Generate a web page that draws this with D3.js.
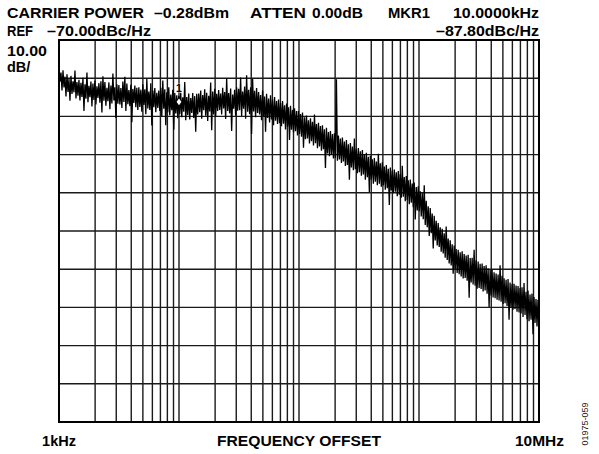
<!DOCTYPE html>
<html>
<head>
<meta charset="utf-8">
<script src="https://cdn.jsdelivr.net/npm/d3@7"></script>
<style>
  html, body { margin: 0; padding: 0; background: #fff; }
  svg { display: block; font-family: "Liberation Sans", Arial, Helvetica, sans-serif; }
</style>
</head>
<body>
<svg id="chart" width="599" height="454"></svg>
<script>
// ---- header / annotation texts ----
const headerLine1 = [
  { text: "CARRIER POWER", x: 7, w: 137 },
  { text: "\u20130.28dBm", x: 154, w: 75 },
  { text: "ATTEN", x: 250, w: 56 },
  { text: "0.00dB", x: 312, w: 51 },
  { text: "MKR1", x: 388, w: 42 },
  { text: "10.0000kHz", x: 453, w: 86 }
];
const headerLine2 = [
  { text: "REF", x: 7, w: 26 },
  { text: "\u201370.00dBc/Hz", x: 47, w: 104 },
  { text: "\u201387.80dBc/Hz", x: 436, w: 103 }
];
const scaleLabels = ["10.00", "dB/"];
const xTickLabels = ["1kHz", "10MHz"];
const xTitle = "FREQUENCY OFFSET";
const figureId = "01975-059";

// ---- axis definition ----
const sweepStartHz = 1e3;
const sweepStopHz = 1e7;
const refLevel = -70;      // dBc/Hz at top
const dbPerDiv = 10;
const yDivisions = 10;

// ---- marker ----
const markerFreq = 1e4;
const markerLevel = -86.2;
const markerLabel = "1";

// ---- measured trace: per-bin peak (max) and pit (min) in dBc/Hz, 241 bins 1kHz..10MHz ----
const traceMax = [
  -76.8, -78.5, -77.9, -79.6, -79.0, -80.2, -79.4, -80.8, -78.0, -81.0,
  -80.4, -81.2, -79.9, -81.6, -78.5, -82.0, -80.9, -81.4, -80.6, -82.1,
  -81.3, -80.8, -79.5, -81.0, -82.5, -81.1, -81.9, -78.8, -82.4, -81.6,
  -81.8, -82.6, -80.9, -79.6, -81.4, -83.1, -81.7, -82.8, -81.9, -82.5,
  -82.4, -83.0, -81.6, -82.9, -80.2, -83.5, -81.3, -83.2, -82.6, -83.8,
  -83.2, -82.5, -80.6, -82.9, -83.7, -82.4, -84.3, -83.0, -83.9, -84.5,
  -84.6, -83.8, -85.0, -81.0, -84.9, -84.0, -85.2, -83.9, -84.7, -84.1,
  -84.0, -83.2, -84.4, -82.9, -83.8, -84.6, -81.1, -83.5, -82.8, -84.1,
  -83.1, -84.0, -82.5, -83.6, -80.0, -83.9, -82.7, -84.3, -83.0, -82.4,
  -82.8, -79.8, -83.5, -82.2, -79.2, -83.0, -82.4, -80.1, -83.3, -82.6,
  -83.6, -84.4, -83.2, -84.8, -84.1, -85.3, -84.5, -85.6, -84.9, -86.0,
  -85.6, -86.5, -86.0, -87.1, -86.6, -87.6, -87.2, -88.3, -87.9, -88.6,
  -88.6, -89.4, -89.0, -90.2, -89.8, -91.0, -90.5, -91.4, -89.5, -92.0,
  -91.7, -92.5, -92.3, -93.4, -93.0, -94.1, -93.8, -94.6, -94.4, -80.3,
  -95.0, -95.8, -95.5, -96.6, -96.2, -97.3, -97.0, -97.9, -95.8, -98.5,
  -98.3, -99.1, -98.8, -99.9, -99.5, -100.6, -100.3, -101.2, -100.9, -101.8,
  -99.8, -102.3, -102.0, -103.1, -102.7, -103.7, -103.4, -104.2, -103.9, -104.6,
  -104.3, -105.1, -102.9, -105.9, -105.6, -106.7, -106.5, -107.6, -107.3, -108.5,
  -108.3, -109.6, -110.0, -108.0, -112.1, -113.5, -114.0, -115.4, -116.0, -117.3,
  -117.9, -119.0, -119.4, -120.6, -118.8, -122.0, -122.4, -123.5, -123.8, -124.7,
  -124.9, -125.6, -125.3, -126.0, -126.4, -126.2, -127.1, -127.0, -124.9, -127.7,
  -128.0, -128.6, -128.5, -129.2, -129.0, -129.8, -130.2, -130.1, -130.8, -131.1,
  -131.4, -129.0, -131.7, -132.4, -132.8, -132.6, -133.5, -133.9, -133.8, -134.3,
  -134.4, -134.9, -134.7, -133.6, -135.9, -135.6, -136.6, -136.4, -137.3, -137.8,
  -138.0
];
const traceMin = [
  -80.9, -83.2, -82.4, -84.8, -83.6, -85.9, -84.1, -83.7, -85.3, -84.6,
  -85.8, -84.9, -88.6, -85.4, -86.3, -85.0, -87.4, -85.7, -86.9, -85.2,
  -86.4, -89.0, -85.9, -87.2, -86.0, -88.1, -86.6, -85.8, -90.4, -86.7,
  -86.9, -87.8, -86.2, -88.6, -86.8, -87.3, -91.5, -86.5, -87.6, -88.3,
  -87.5, -88.8, -87.0, -89.4, -87.9, -88.3, -92.4, -87.6, -88.9, -87.8,
  -88.6, -90.1, -88.0, -92.3, -88.9, -89.7, -88.4, -93.5, -89.2, -90.5,
  -89.4, -90.2, -88.8, -91.0, -89.6, -90.8, -89.1, -90.4, -94.0, -89.5,
  -88.9, -90.6, -88.4, -89.8, -91.2, -88.7, -93.6, -89.5, -90.0, -88.6,
  -88.3, -89.5, -87.9, -90.7, -88.6, -89.2, -93.8, -88.0, -89.8, -88.5,
  -88.4, -89.9, -88.0, -90.6, -88.8, -89.4, -94.6, -88.7, -90.2, -89.1,
  -89.5, -91.0, -90.1, -94.0, -90.4, -91.6, -90.8, -92.3, -91.1, -92.0,
  -91.8, -92.6, -91.9, -93.4, -92.7, -96.2, -93.5, -94.2, -93.9, -95.0,
  -94.6, -95.3, -98.2, -96.0, -95.8, -97.1, -96.5, -97.6, -97.0, -98.3,
  -97.9, -99.0, -98.6, -103.5, -99.7, -100.4, -100.1, -101.0, -100.8, -101.6,
  -101.3, -102.2, -101.8, -103.0, -102.7, -106.6, -103.4, -104.1, -103.8, -104.9,
  -104.6, -105.5, -105.2, -106.6, -105.9, -109.8, -106.5, -107.6, -107.1, -108.0,
  -107.6, -108.4, -108.1, -109.2, -108.8, -113.2, -109.4, -110.1, -109.7, -110.9,
  -110.5, -111.3, -111.0, -112.2, -111.9, -113.0, -112.6, -113.8, -117.0, -114.6,
  -114.8, -116.2, -116.9, -118.4, -119.0, -121.3, -120.6, -124.6, -122.5, -123.8,
  -124.2, -125.4, -125.9, -127.0, -127.6, -128.5, -129.0, -131.2, -130.1, -131.0,
  -131.3, -131.9, -132.4, -132.3, -133.0, -137.5, -133.5, -134.0, -134.3, -135.1,
  -134.9, -135.2, -135.8, -135.6, -136.4, -139.9, -136.9, -137.4, -137.6, -138.0,
  -138.2, -138.5, -139.1, -138.9, -139.6, -143.2, -140.0, -140.6, -140.4, -141.1,
  -141.3, -141.6, -142.5, -142.0, -143.1, -143.6, -143.2, -147.0, -144.1, -145.0,
  -145.3
];

// ---- layout ----
const plot = { left: 59, right: 539, top: 40, bottom: 422 };

const svg = d3.select("#chart");

const x = d3.scaleLog().domain([sweepStartHz, sweepStopHz]).range([plot.left, plot.right]);
const y = d3.scaleLinear()
  .domain([refLevel - dbPerDiv * yDivisions, refLevel])
  .range([plot.bottom, plot.top]);

// sweep frequencies: each bin contributes its peak then its pit (peak-detector display)
const nBins = traceMax.length;
const nPts = nBins * 2;
const logSpan = Math.log10(sweepStopHz / sweepStartHz);
const freqAt = k => sweepStartHz * Math.pow(10, logSpan * k / (nPts - 1));
const traceData = [];
for (let i = 0; i < nBins; i++) {
  traceData.push({ f: freqAt(2 * i), v: traceMax[i] });
  traceData.push({ f: freqAt(2 * i + 1), v: traceMin[i] });
}

// ---- grid ----
const vTicks = [];
for (let d = sweepStartHz; d < sweepStopHz; d *= 10) {
  for (let k = 1; k <= 9; k++) vTicks.push(d * k);
}
const hTicks = d3.range(0, yDivisions + 1).map(i => refLevel - i * dbPerDiv);

const grid = svg.append("g");
grid.selectAll("line.v").data(vTicks.filter(t => t > sweepStartHz)).enter().append("line")
  .attr("x1", d => x(d)).attr("x2", d => x(d))
  .attr("y1", plot.top).attr("y2", plot.bottom)
  .attr("stroke", "#1a1a1a").attr("stroke-width", 1.4);
grid.selectAll("line.h").data(hTicks).enter().append("line")
  .attr("x1", plot.left).attr("x2", plot.right)
  .attr("y1", d => y(d)).attr("y2", d => y(d))
  .attr("stroke", "#1a1a1a").attr("stroke-width", 1.4);

svg.append("rect")
  .attr("x", plot.left).attr("y", plot.top)
  .attr("width", plot.right - plot.left).attr("height", plot.bottom - plot.top)
  .attr("fill", "none").attr("stroke", "#000").attr("stroke-width", 2);

// ---- trace ----
svg.append("clipPath").attr("id", "clip").append("rect")
  .attr("x", plot.left).attr("y", plot.top)
  .attr("width", plot.right - plot.left).attr("height", plot.bottom - plot.top);

const line = d3.line().x(d => x(d.f)).y(d => y(d.v));
svg.append("path")
  .datum(traceData)
  .attr("clip-path", "url(#clip)")
  .attr("d", line)
  .attr("fill", "none")
  .attr("stroke", "#000")
  .attr("stroke-width", 1.3)
  .attr("stroke-linejoin", "bevel");

// ---- marker ----
const mx = x(markerFreq), my = y(markerLevel);
svg.append("path")
  .attr("d", `M${mx},${my - 4.5} L${mx + 3.2},${my} L${mx},${my + 4.5} L${mx - 3.2},${my} Z`)
  .attr("fill", "#fff").attr("stroke", "#000").attr("stroke-width", 1.2);
svg.append("text")
  .attr("x", mx).attr("y", my - 10)
  .attr("text-anchor", "middle")
  .attr("font-size", 10.5).attr("font-weight", "bold")
  .attr("fill", "#000")
  .attr("stroke", "#fff").attr("stroke-width", 0.6).attr("paint-order", "stroke")
  .text(markerLabel);

// ---- header texts ----
function header(items, baseline) {
  svg.append("g").selectAll("text").data(items).enter().append("text")
    .attr("x", d => d.x).attr("y", baseline)
    .attr("font-size", 14.5).attr("font-weight", "bold")
    .attr("textLength", d => d.w).attr("lengthAdjust", "spacingAndGlyphs")
    .text(d => d.text);
}
header(headerLine1, 18);
header(headerLine2, 36);

svg.append("text").attr("x", 7).attr("y", 56)
  .attr("font-size", 14.5).attr("font-weight", "bold")
  .attr("textLength", 40).attr("lengthAdjust", "spacingAndGlyphs")
  .text(scaleLabels[0]);
svg.append("text").attr("x", 7).attr("y", 72)
  .attr("font-size", 14.5).attr("font-weight", "bold")
  .text(scaleLabels[1]);

// ---- x labels ----
svg.append("text").attr("x", plot.left).attr("y", 446)
  .attr("text-anchor", "middle").attr("font-size", 14.5).attr("font-weight", "bold")
  .text(xTickLabels[0]);
svg.append("text").attr("x", plot.right + 0.5).attr("y", 446)
  .attr("text-anchor", "middle").attr("font-size", 14.5).attr("font-weight", "bold")
  .attr("textLength", 49).attr("lengthAdjust", "spacingAndGlyphs")
  .text(xTickLabels[1]);
svg.append("text").attr("x", (plot.left + plot.right) / 2).attr("y", 446)
  .attr("text-anchor", "middle").attr("font-size", 14.5).attr("font-weight", "bold")
  .attr("textLength", 164).attr("lengthAdjust", "spacingAndGlyphs")
  .text(xTitle);

svg.append("text")
  .attr("transform", "translate(588,424) rotate(-90)")
  .attr("text-anchor", "middle").attr("font-size", 9)
  .attr("fill", "#222")
  .text(figureId);
</script>
</body>
</html>
